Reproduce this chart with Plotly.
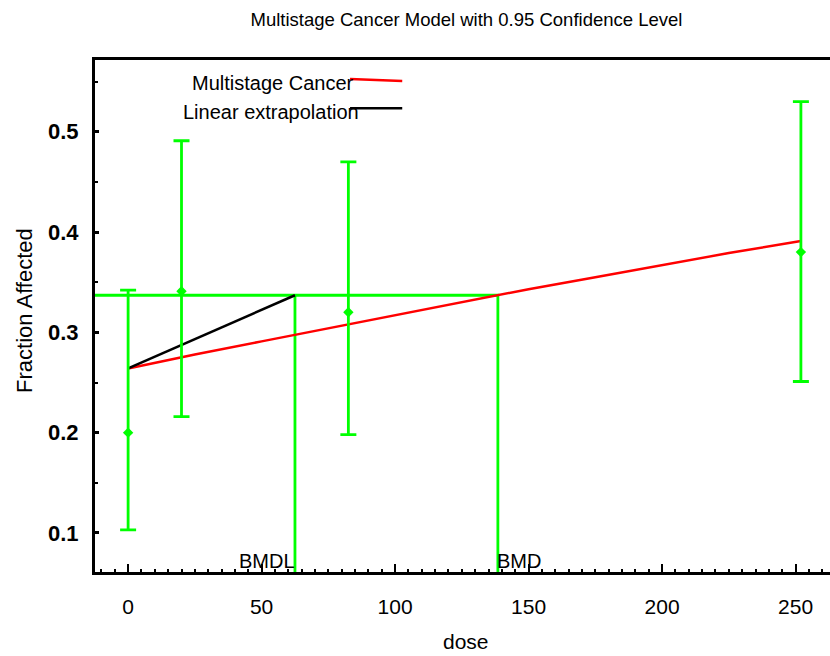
import plotly.graph_objects as go

# ---- data ----
dose = [0, 20, 82.5, 252]
frac = [0.200, 0.341, 0.320, 0.380]
err_hi = [0.342, 0.491, 0.470, 0.530]
err_lo = [0.103, 0.216, 0.198, 0.251]

model_dose = [0, 25, 50, 75, 100, 125, 150, 175, 200, 225, 252]
model_frac = [0.264, 0.278, 0.291, 0.304, 0.317, 0.330, 0.343, 0.355, 0.367, 0.379, 0.391]

bmdl = 62.5
bmd = 138.5
bmr_level = 0.337
bg = 0.264

x_range = [-12.4, 262.9]
y_range = [0.0611, 0.5715]
x_ticks = [0, 50, 100, 150, 200, 250]
y_ticks = [0.1, 0.2, 0.3, 0.4, 0.5]

GREEN = "#00ff00"
FONT = "Liberation Sans, Arial, sans-serif"

fig = go.Figure()

# BMD / BMDL green guide lines
fig.add_trace(go.Scatter(
    x=[x_range[0], bmd, bmd], y=[bmr_level, bmr_level, y_range[0]],
    mode="lines", line=dict(color=GREEN, width=2.8), showlegend=False, hoverinfo="skip"))
fig.add_trace(go.Scatter(
    x=[bmdl, bmdl], y=[bmr_level, y_range[0]],
    mode="lines", line=dict(color=GREEN, width=2.8), showlegend=False, hoverinfo="skip"))

# model curve
fig.add_trace(go.Scatter(
    x=model_dose, y=model_frac, mode="lines",
    line=dict(color="#ff0000", width=2.5), showlegend=False))

# linear extrapolation
fig.add_trace(go.Scatter(
    x=[0, bmdl], y=[bg, bmr_level], mode="lines",
    line=dict(color="black", width=2.5), showlegend=False))

# observed data with error bars
fig.add_trace(go.Scatter(
    x=dose, y=frac, mode="markers",
    marker=dict(symbol="diamond", size=8, color=GREEN),
    error_y=dict(type="data", symmetric=False,
                 array=[h - f for h, f in zip(err_hi, frac)],
                 arrayminus=[f - l for f, l in zip(frac, err_lo)],
                 color=GREEN, thickness=2.8, width=8),
    showlegend=False))

# legend (text left of the sample line, as in the reference)
fig.add_annotation(text="Multistage Cancer", xref="paper", yref="paper",
                   x=0.355, y=0.955, xanchor="right", yanchor="middle",
                   showarrow=False, font=dict(family=FONT, size=20, color="black"))
fig.add_annotation(text="Linear extrapolation", xref="paper", yref="paper",
                   x=0.362, y=0.898, xanchor="right", yanchor="middle",
                   showarrow=False, font=dict(family=FONT, size=20, color="black"))
fig.add_shape(type="line", xref="paper", yref="paper", x0=0.347, x1=0.418,
              y0=0.963, y1=0.959, line=dict(color="#ff0000", width=2.5))
fig.add_shape(type="line", xref="paper", yref="paper", x0=0.347, x1=0.418,
              y0=0.906, y1=0.906, line=dict(color="black", width=2.5))

# BMDL / BMD labels
fig.add_annotation(text="BMDL", x=bmdl, y=0, xref="x", yref="paper",
                   xanchor="right", yanchor="bottom", showarrow=False, yshift=-2, xshift=2,
                   font=dict(family=FONT, size=20, color="black"))
fig.add_annotation(text="BMD", x=bmd, y=0, xref="x", yref="paper",
                   xanchor="left", yanchor="bottom", showarrow=False, yshift=-2, xshift=-3,
                   font=dict(family=FONT, size=20, color="black"))

# axis titles
fig.add_annotation(text="dose", xref="paper", yref="paper", x=0.505, y=-0.1367,
                   xanchor="center", yanchor="middle", showarrow=False,
                   font=dict(family=FONT, size=21, color="black"))
fig.add_annotation(text="Fraction Affected", xref="paper", yref="paper", x=-0.0952, y=0.51,
                   xanchor="center", yanchor="middle", showarrow=False, textangle=-90,
                   font=dict(family=FONT, size=22, color="black"))

fig.update_layout(
    width=830, height=656,
    margin=dict(l=95, r=0, t=60, b=84),
    paper_bgcolor="white", plot_bgcolor="white",
    font=dict(family=FONT, color="black"),
    title=dict(text="Multistage Cancer Model with 0.95 Confidence Level",
               x=0.562, xref="container", xanchor="center",
               y=1 - 20 / 656, yref="container", yanchor="middle",
               font=dict(family=FONT, size=18.5, color="black")),
    xaxis=dict(range=x_range, tickvals=x_ticks, ticktext=[str(v) for v in x_ticks],
               showgrid=False, zeroline=False, automargin=False,
               showline=True, linecolor="black", linewidth=3, mirror=True,
               ticks="inside", ticklen=8, tickwidth=2, tickcolor="black",
               ticklabelstandoff=14,
               minor=dict(dtick=5, tick0=0, ticks="inside", ticklen=3, tickwidth=2, tickcolor="black"),
               tickfont=dict(family=FONT, size=21, color="black")),
    yaxis=dict(range=y_range, tickvals=y_ticks, ticktext=["<b>%.1f</b>" % v for v in y_ticks],
               showgrid=False, zeroline=False, automargin=False,
               showline=True, linecolor="black", linewidth=3, mirror=True,
               ticks="inside", ticklen=4, tickwidth=3, tickcolor="black",
               ticklabelstandoff=9,
               minor=dict(dtick=0.05, tick0=0, ticks="inside", ticklen=3, tickwidth=2, tickcolor="black"),
               tickfont=dict(family=FONT, size=22, color="black")),
)

fig.write_html("out.html")
